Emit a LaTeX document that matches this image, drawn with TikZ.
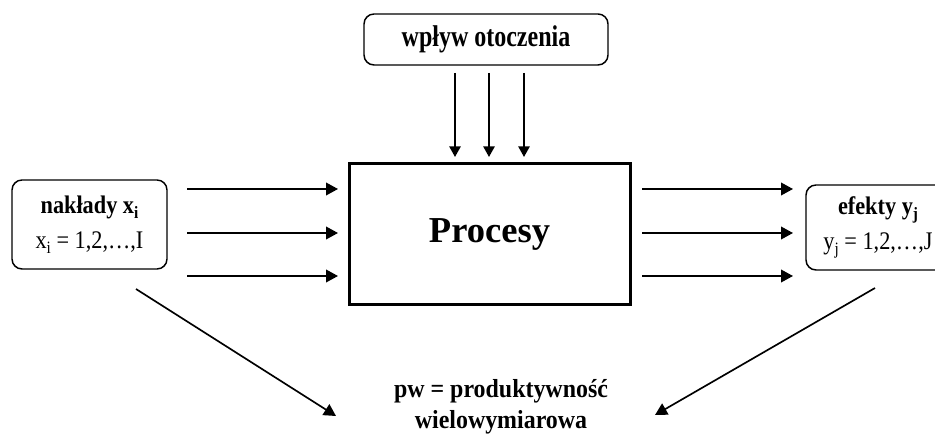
\documentclass[tikz,border=0pt]{standalone}
\usepackage{fontspec}
\setmainfont{Liberation Serif}
\newfontfamily\envfont[FakeStretch=0.8]{Liberation Serif}
\newfontfamily\pwfont[FakeStretch=0.92]{Liberation Serif}
\newfontfamily\boxfam[FakeStretch=0.88]{Liberation Serif}
\usetikzlibrary{arrows.meta}
\newcommand{\sbs}[1]{\raisebox{-3.8pt}{\fontsize{13pt}{13pt}\selectfont #1}}
\begin{document}
\begin{tikzpicture}[x=0.75pt,y=-0.75pt,
  rbox/.style={draw,rounded corners=7.5pt,line width=1.1pt,inner sep=0pt,align=center},
  procbox/.style={draw,line width=2.25pt,inner sep=0pt},
  arr/.style={line width=1.25pt,-{Triangle[length=9pt,width=9.5pt]}},
  darr/.style={line width=1.25pt,-{Triangle[length=8pt,width=8.5pt]}},
  boxfont/.style={font=\boxfam\fontsize{19pt}{26.25pt}\selectfont}]
\clip (0,0) rectangle (935,441);
\fill[white] (0,0) rectangle (935,441);

\node[rbox,minimum width=183pt,minimum height=38.25pt,
  font=\envfont\bfseries\fontsize{22.5pt}{26pt}\selectfont] (env) at (486,39.5)
  {wpływ otoczenia};

\node[procbox,minimum width=210.75pt,minimum height=105.75pt,
  font=\bfseries\fontsize{27.4pt}{32pt}\selectfont] (proc) at (489.5,234.5)
  {Procesy};

\node[rbox,boxfont,minimum width=116.25pt,minimum height=66.75pt] (in) at (89.5,224.5)
  {\textbf{nakłady x\sbs{\textbf{i}}}\\
   x\sbs{i} = 1,2,…,I};

% box runs past the right edge of the picture, as in the original
\node[rbox,boxfont,minimum width=120pt,minimum height=63.75pt] (out) at (886,227.5)
  {\textbf{efekty y\sbs{\textbf{j}}}\hspace*{12pt}\\
   y\sbs{j} = 1,2,…,J\hspace*{12pt}};

\node[align=center,inner sep=0pt,
  font=\pwfont\bfseries\fontsize{19.5pt}{23.25pt}\selectfont] (pw) at (501,407)
  {pw = produktywność\\ wielowymiarowa};

% environment arrows
\foreach \x/\n in {455/a,489/b,524/c}{
  \coordinate (e\n) at (\x,73);
  \coordinate (p\n) at (\x,157);
  \draw[darr] (e\n) -- (p\n);
}
% input and output arrows
\foreach \y/\n in {189/a,233/b,276/c}{
  \coordinate (is\n) at (187,\y);
  \coordinate (ie\n) at (338,\y);
  \draw[arr] (is\n) -- (ie\n);
  \coordinate (os\n) at (642,\y);
  \coordinate (oe\n) at (793,\y);
  \draw[arr] (os\n) -- (oe\n);
}
% diagonal arrows
\coordinate (inD) at (136,289);
\coordinate (pwL) at (336,416);
\coordinate (outD) at (875,288);
\coordinate (pwR) at (655,415);
\draw[arr] (inD) -- (pwL);
\draw[arr] (outD) -- (pwR);
\end{tikzpicture}
\end{document}
